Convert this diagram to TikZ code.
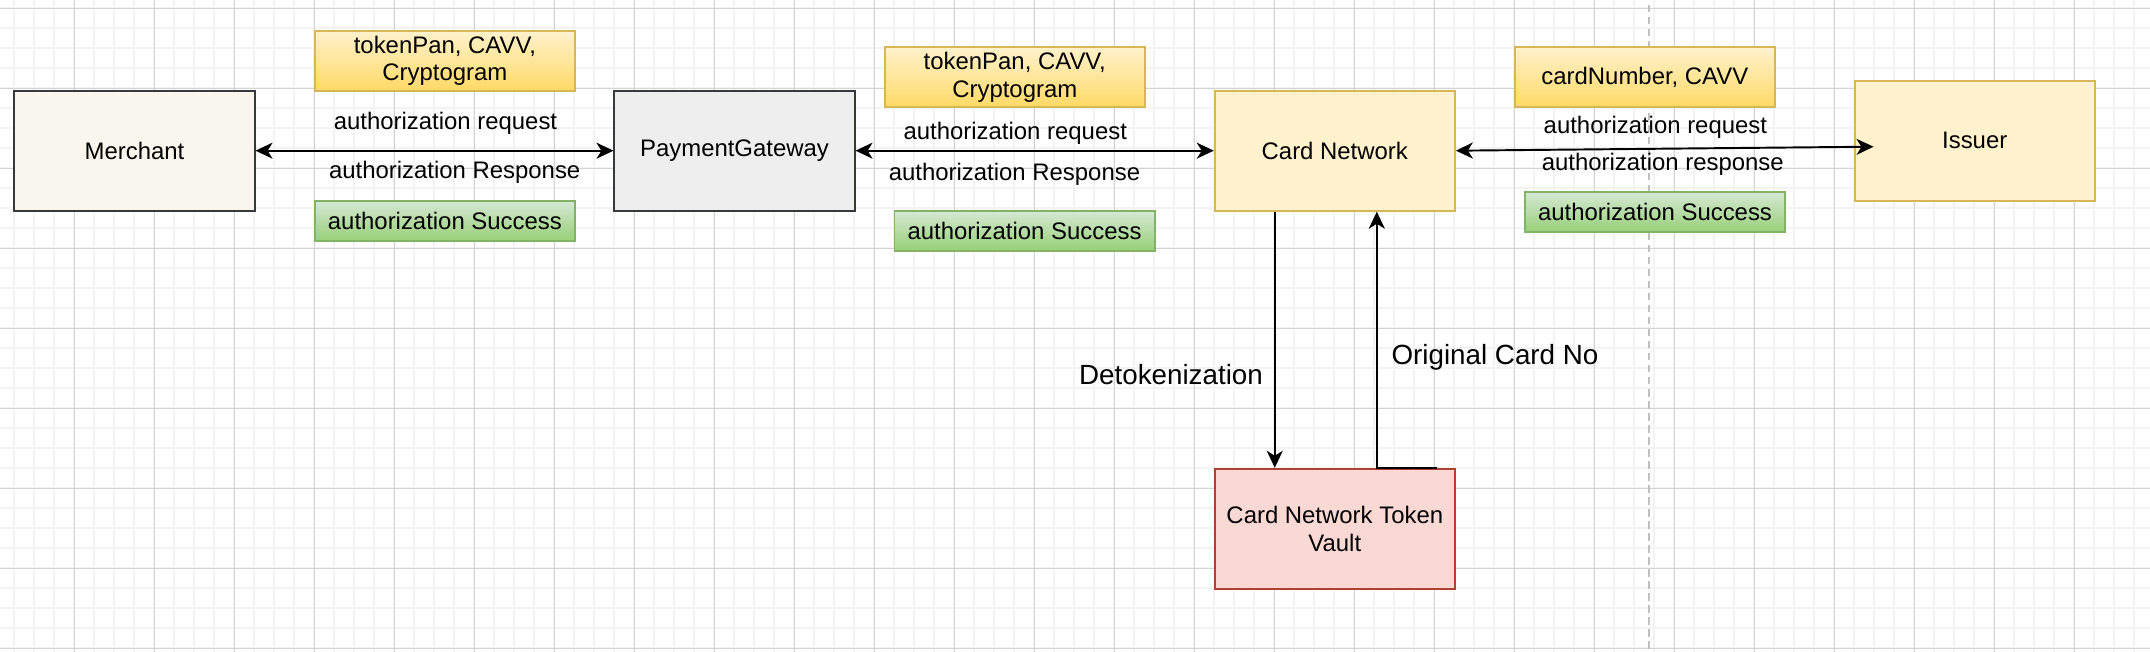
\documentclass[tikz,border=0pt]{standalone}
\usepackage{fontspec}
\setmainfont{Liberation Sans}
\usetikzlibrary{arrows.meta}

\definecolor{merfill}{HTML}{F9F7ED}
\definecolor{darkline}{HTML}{36393D}
\definecolor{pgfill}{HTML}{EEEEEE}
\definecolor{cnfill}{HTML}{FFF2CC}
\definecolor{cnline}{HTML}{D6B656}
\definecolor{vltfill}{HTML}{FAD9D5}
\definecolor{vltline}{HTML}{AE4132}
\definecolor{datatop}{HTML}{FFF2CC}
\definecolor{databot}{HTML}{FFD966}
\definecolor{oktop}{HTML}{D5E8D4}
\definecolor{okbot}{HTML}{97D077}
\definecolor{okline}{HTML}{82B366}
\definecolor{gridmin}{HTML}{F3F3F3}
\definecolor{gridmaj}{HTML}{D3D3D3}
\definecolor{sepline}{HTML}{C0C0C0}

\begin{document}
\begin{tikzpicture}[x=0.01cm, y=-0.01cm,
    font=\fontsize{6.8pt}{7.9pt}\selectfont,
    >={Stealth[length=0.17cm, width=0.16cm, inset=0.05cm]},
    party/.style={draw, line width=0.55pt, minimum width=2.4cm, minimum height=1.2cm, inner sep=0pt},
    databox/.style={draw=cnline, line width=0.55pt, top color=datatop, bottom color=databot,
      minimum width=2.6cm, minimum height=0.6cm, inner sep=0pt, align=center},
    okbox/.style={draw=okline, line width=0.55pt, top color=oktop, bottom color=okbot,
      minimum width=2.6cm, minimum height=0.4cm, inner sep=0pt},
    msg/.style={anchor=base, inner sep=0pt},
    bigmsg/.style={msg, font=\fontsize{7.9pt}{9pt}\selectfont},
    flow/.style={line width=0.55pt, black}]
  \useasboundingbox (0,0) rectangle (2150,652);
  \fill[white] (0,0) rectangle (2150,652);
  \foreach \gx in {14.3,34.3,...,2150}
    \draw[gridmin, line width=0.02cm] (\gx,0) -- (\gx,652);
  \foreach \gy in {8.3,28.3,...,652}
    \draw[gridmin, line width=0.02cm] (0,\gy) -- (2150,\gy);
  \foreach \gx in {74.3,154.3,...,2150}
    \draw[gridmaj, line width=0.012cm] (\gx,0) -- (\gx,652);
  \foreach \gy in {8.3,88.3,...,652}
    \draw[gridmaj, line width=0.012cm] (0,\gy) -- (2150,\gy);
  \draw[sepline, line width=0.02cm, dash pattern=on 0.073cm off 0.047cm] (1648.7,5) -- (1648.7,652);

  \node[party, fill=merfill, draw=darkline] (mer) at (134.5,150.7) {Merchant};
  \node[party, fill=pgfill, draw=darkline] (pg) at (734.5,150.7) {PaymentGateway};
  \node[party, fill=cnfill, draw=cnline] (cn) at (1334.8,150.7) {Card Network};
  \node[party, fill=cnfill, draw=cnline] (iss) at (1974.7,140.8) {Issuer};
  \node[party, fill=vltfill, draw=vltline, align=center] (vlt) at (1334.8,528.8) {Card Network Token\\Vault};

  \node[databox] (d0) at (444.9,60.8) {tokenPan, CAVV,\\Cryptogram};
  \node[databox] (d1) at (1014.8,77) {tokenPan, CAVV,\\Cryptogram};
  \node[databox] (d2) at (1644.9,77) {cardNumber, CAVV};
  \node[okbox] (s0) at (444.9,220.7) {authorization Success};
  \node[okbox] (s1) at (1024.6,230.7) {authorization Success};
  \node[okbox] (s2) at (1655,212) {authorization Success};

  \node[msg] (q0) at (445.5,130) {authorization request};
  \node[msg] (r0) at (454.7,179) {authorization Response};
  \node[msg] (q1) at (1015.3,139.6) {authorization request};
  \node[msg] (r1) at (1014.5,180.7) {authorization Response};
  \node[msg] (q2) at (1655.4,134) {authorization request};
  \node[msg] (r2) at (1662.8,171) {authorization response};
  \node[bigmsg] (dt) at (1171,384.3) {Detokenization};
  \node[bigmsg] (oc) at (1495,364.3) {Original Card No};

  \coordinate (issin) at (1873.5,146.7);
  \draw[flow, <->] (mer) -- (pg);
  \draw[flow, <->] (pg) -- (cn);
  \draw[flow, <->] (cn.east) -- (issin);
  \draw[flow, ->] ([xshift=-0.6cm]cn.south) -- ([xshift=-0.6cm]vlt.north);
  \draw[flow, ->] ([xshift=1.02cm]vlt.north) -- ([xshift=0.42cm]vlt.north) -- ([xshift=0.42cm]cn.south);
\end{tikzpicture}
\end{document}
